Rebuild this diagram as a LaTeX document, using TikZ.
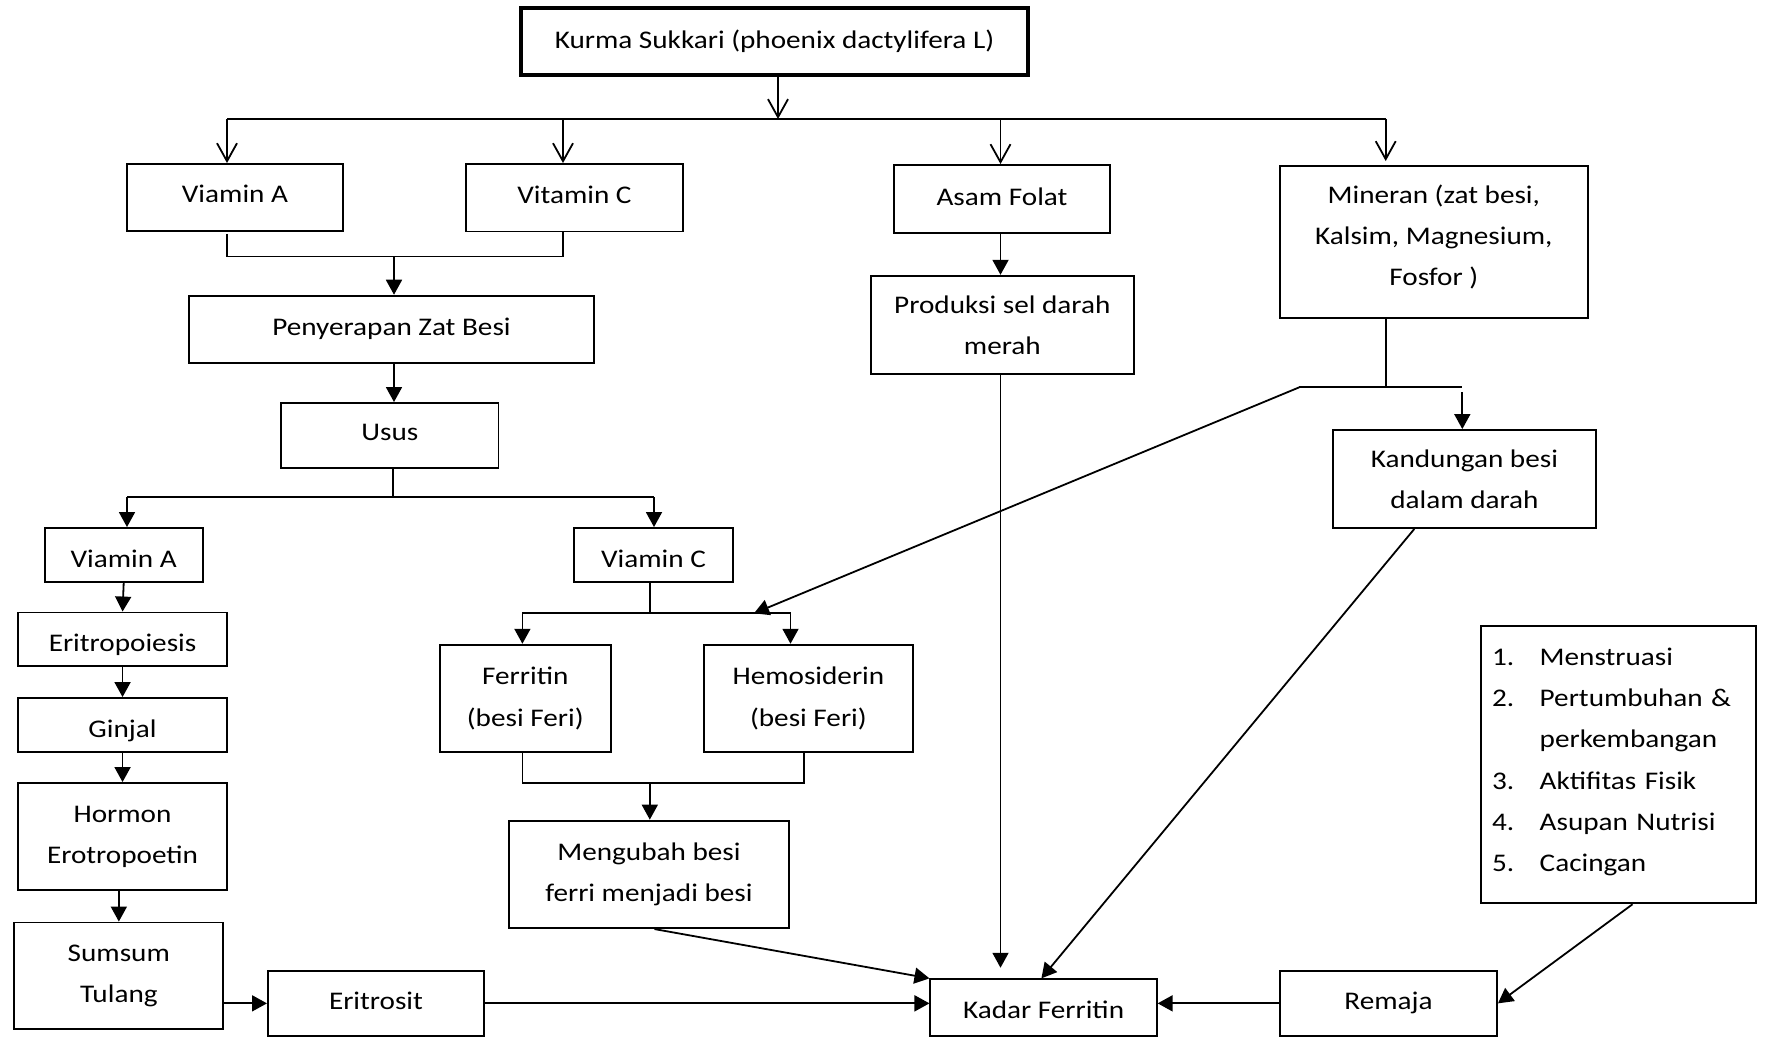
\documentclass[tikz,border=0pt]{standalone}
\usepackage{fontspec}
\setmainfont{Carlito}[FakeStretch=1.15]
\usetikzlibrary{arrows.meta}
\newcommand{\dn}[1]{\rule[-#1]{0pt}{0pt}}
\newcommand{\hi}[1]{\rule{0pt}{#1}}
\begin{document}
\begin{tikzpicture}[x=0.5pt,y=-0.5pt,
  every node/.style={font=\fontsize{12.7pt}{20.6pt}\selectfont},
  box/.style={draw, line width=0.95pt, inner sep=0pt, align=center},
  conn/.style={line width=0.9pt},
  openarr/.style={conn, -{Straight Barb[length=9pt,width=10pt]}},
  farr/.style={conn, -{Triangle[length=7.5pt,width=8pt]}}]
\useasboundingbox (0,0) rectangle (1765,1037);
\fill[white] (0,0) rectangle (1765,1037);

% boxes
\node[box, line width=2.2pt, minimum width=253.5pt, minimum height=33.5pt] (kurma) at (774.5,41.5) {Kurma Sukkari (phoenix dactylifera L)};
\node[box, minimum width=108pt, minimum height=33.5pt] (va1) at (235,197.5) {Viamin A\dn{3.4pt}};
\node[box, minimum width=108.5pt, minimum height=33.75pt] (vc1) at (574.5,197.75) {Vitamin C\dn{3.4pt}};
\node[box, minimum width=108pt, minimum height=34pt] (af) at (1002,199) {Asam Folat\dn{2.2pt}};
\node[box, minimum width=153.8pt, minimum height=76pt] (min) at (1433.8,242) {Mineran (zat besi,\\Kalsim, Magnesium,\\Fosfor )\dn{6.9pt}};
\node[box, minimum width=131.3pt, minimum height=49.15pt] (prod) at (1002.3,324.9) {Produksi sel darah\\merah};
\node[box, minimum width=131.35pt, minimum height=49pt] (kand) at (1464.4,479) {Kandungan besi\\dalam darah};
\node[box, minimum width=202.1pt, minimum height=33.5pt] (peny) at (391.5,329.2) {Penyerapan Zat Besi};
\node[box, minimum width=108.6pt, minimum height=32.3pt] (usus) at (389.9,435.3) {Usus\dn{3.4pt}};
\node[box, minimum width=78.9pt, minimum height=27pt] (va2) at (123.7,555) {\hi{12.9pt}Viamin A};
\node[box, minimum width=79.5pt, minimum height=27pt] (vc2) at (653.5,555) {\hi{12.9pt}Viamin C};
\node[box, minimum width=104.75pt, minimum height=26.95pt] (erp) at (122.55,639.45) {\hi{14pt}Eritropoiesis};
\node[box, minimum width=104.75pt, minimum height=26.9pt] (ginjal) at (122.55,724.9) {\hi{14.5pt}Ginjal};
\node[box, minimum width=104.75pt, minimum height=53.5pt] (hormon) at (122.55,836.5) {Hormon\\Erotropoetin};
\node[box, minimum width=104.45pt, minimum height=53.15pt] (sumsum) at (118.85,975.65) {Sumsum\\Tulang};
\node[box, minimum width=108.05pt, minimum height=32.65pt] (eritrosit) at (376,1003.35) {Eritrosit\dn{2.2pt}};
\node[box, minimum width=85.55pt, minimum height=53.7pt] (ferritin) at (525.25,698.4) {Ferritin\\(besi Feri)};
\node[box, minimum width=104.6pt, minimum height=53.8pt] (hemo) at (808.4,698.5) {Hemosiderin\\(besi Feri)};
\node[box, minimum width=140.35pt, minimum height=53.75pt] (meng) at (648.95,874.35) {Mengubah besi\\ferri menjadi besi};
\node[box, minimum width=113.15pt, minimum height=28.35pt] (kadar) at (1043.55,1007.65) {\hi{10.9pt}Kadar Ferritin};
\node[box, minimum width=108.5pt, minimum height=32.65pt] (remaja) at (1388.5,1003.35) {Remaja};
\node[box, minimum width=137.4pt, minimum height=138.5pt, text width=126.8pt, align=left, inner xsep=5.3pt] (list) at (1618.8,764.8)
 {\renewcommand{\arraystretch}{1}\begin{tabular}{@{}p{23.85pt}@{}l@{}}
 1. & Menstruasi\\
 2. & Pertumbuhan \&\\
    & perkembangan\\
 3. & Aktifitas Fisik\\
 4. & Asupan Nutrisi\\
 5. & Cacingan\dn{10.7pt}
 \end{tabular}};

% top distribution
\coordinate (jt) at (778,119);
\coordinate (jl) at (227,119);
\coordinate (jc) at (563,119);
\coordinate (ja) at (1000.5,119);
\coordinate (jr) at (1385.7,119);
\draw[openarr] (kurma.south -| jt) -- (jt);
\draw[conn] (jl) -- (jr);
\draw[openarr] (jl) -- (va1.north -| jl);
\draw[openarr] (jc) -- (vc1.north -| jc);
\draw[openarr] (ja) -- (af.north -| ja);
\draw[openarr] (jr) -- ([yshift=2pt]min.north -| jr);

% vitamin merge
\coordinate (m1) at (227,256.5);
\coordinate (m2) at (563,256.5);
\coordinate (m3) at (394,256.5);
\draw[conn] ([yshift=-1pt]va1.south -| m1) -- (m1) -- (m2) -- (vc1.south -| m2);
\draw[farr] (m3) -- (peny.north -| m3);
\draw[farr] (peny.south -| m3) -- (usus.north -| m3);

% usus split
\coordinate (u0) at (392.7,497);
\coordinate (ul) at (127,497);
\coordinate (ur) at (654,497);
\draw[conn] (usus.south -| u0) -- (u0);
\draw[conn] (ul) -- (ur);
\draw[farr] (ul) -- (va2.north -| ul);
\draw[farr] (ur) -- (vc2.north -| ur);

% left column
\draw[farr] (va2.south) -- (erp.north);
\draw[farr] (erp.south) -- (ginjal.north);
\draw[farr] (ginjal.south) -- (hormon.north);
\draw[farr] (hormon.south -| sumsum.north) -- (sumsum.north);
\draw[farr] (sumsum.east |- eritrosit.west) -- (eritrosit.west);
\draw[farr] (eritrosit.east) -- (kadar.west |- eritrosit.east);

% vitamin C split
\coordinate (c1) at (649.8,613.3);
\coordinate (fl) at (522.4,613.3);
\coordinate (fr) at (790.5,613.3);
\coordinate (fj) at (754,613.3);
\draw[conn] (vc2.south -| c1) -- (c1);
\draw[conn] (fl) -- (fr);
\draw[farr] (fl) -- (ferritin.north -| fl);
\draw[farr] (fr) -- (hemo.north -| fr);

% ferritin / hemosiderin merge
\coordinate (g1) at (522.4,783.2);
\coordinate (g2) at (803.7,783.2);
\coordinate (g3) at (649.8,783.2);
\draw[conn] (ferritin.south -| g1) -- (g1) -- (g2) -- (hemo.south -| g2);
\draw[farr] (g3) -- (meng.north -| g3);
\coordinate (g4) at (654.4,0);
\draw[farr] (meng.south -| g4) -- (kadar.north west);

% asam folat
\coordinate (a1) at (1000.5,0);
\draw[farr] (af.south -| a1) -- (prod.north -| a1);
\draw[farr, shorten >=5.3pt] (prod.south -| a1) -- (kadar.north -| a1);

% mineran
\coordinate (n1) at (1385.7,387.3);
\coordinate (n0) at (1299.3,387.3);
\coordinate (n2) at (1462,387.3);
\coordinate (n3) at (1462.3,392.3);
\draw[conn] (min.south -| n1) -- (n1);
\draw[conn] (n0) -- (n2);
\draw[farr] (n3) -- (kand.north -| n3);
\draw[farr] (n0) -- (fj);
\coordinate (k1) at (1414.3,0);
\coordinate (k2) at (1041.4,0);
\draw[farr] (kand.south -| k1) -- (kadar.north -| k2);

% remaja
\draw[farr] (remaja.west) -- (kadar.east |- remaja.west);
\coordinate (l1) at (1632.5,0);
\draw[farr] (list.south -| l1) -- (remaja.east);
\end{tikzpicture}
\end{document}
